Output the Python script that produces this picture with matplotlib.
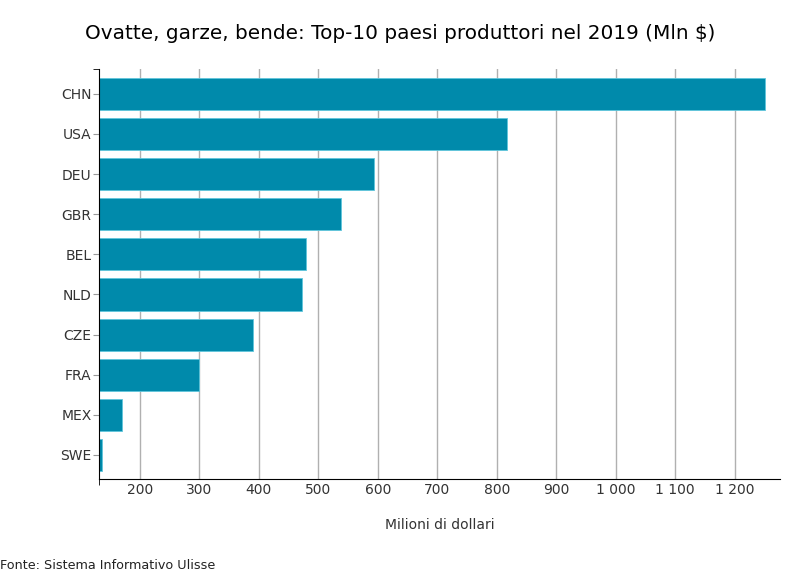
import matplotlib.pyplot as plt
from matplotlib.ticker import FuncFormatter, FixedLocator

countries = ["CHN", "USA", "DEU", "GBR", "BEL", "NLD", "CZE", "FRA", "MEX", "SWE"]
values = [1250, 818, 593, 538, 479, 472, 390, 299, 171, 136]
x_ticks = [200, 300, 400, 500, 600, 700, 800, 900, 1000, 1100, 1200]

x_min, x_max = 132, 1276
y_top = -0.62

fig = plt.figure(figsize=(8, 5.74), dpi=100)
ax = fig.add_axes([0.124, 0.1655, 0.851, 0.7143])

ypos = list(range(len(countries)))
ax.barh(ypos, values, height=0.8, color="#008aab", edgecolor="#5fc6dc", linewidth=0.6, zorder=2)

ax.set_xlim(x_min, x_max)
ax.set_ylim(len(countries) - 0.4, y_top)
ax.set_yticks(ypos)
ax.set_yticklabels(countries)
ax.yaxis.set_minor_locator(FixedLocator([y_top]))
ax.xaxis.set_minor_locator(FixedLocator([x_min]))
ax.set_xticks(x_ticks)
ax.xaxis.set_major_formatter(FuncFormatter(lambda v, p: f"{int(v):,}".replace(",", " ")))

ax.grid(axis="x", color="#b0b0b0", linewidth=1, zorder=0)
ax.tick_params(axis="x", length=0, labelsize=10, pad=3, labelcolor="#333333")
ax.tick_params(axis="x", which="minor", length=4, color="black")
ax.tick_params(axis="y", length=4, labelsize=10, pad=1.5, color="#999999", labelcolor="#333333")
ax.tick_params(axis="y", which="minor", length=4, color="black")
for s in ["top", "right"]:
    ax.spines[s].set_visible(False)

ax.set_xlabel("Milioni di dollari", fontsize=10, labelpad=15, color="#333333")
fig.suptitle("Ovatte, garze, bende: Top-10 paesi produttori nel 2019 (Mln $)", fontsize=14.4, x=0.5, y=0.959)
fig.text(0.0, 0.008, "Fonte: Sistema Informativo Ulisse", fontsize=9.2, color="#222222")

fig.savefig("out.png")
